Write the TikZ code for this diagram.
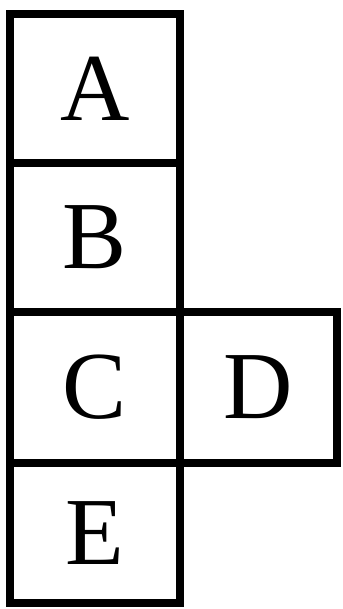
\documentclass[tikz,border=0pt]{standalone}
\usepackage{fontspec}
\setmainfont{Liberation Serif}
\usetikzlibrary{positioning}
\tikzset{
  sq/.style={draw=black, line width=6.5pt, fill=white, inner sep=0pt,
             minimum width=5.1cm, minimum height=4.5cm,
             font=\fontsize{82}{86}\selectfont},
}

\begin{document}
\begin{tikzpicture}[x=0.03cm,y=-0.03cm]
        \useasboundingbox (0,0) rectangle (343,609);
        % column of squares
        \foreach \t/\y/\h in {A/88.5/149,B/237.5/149,C/387.5/151,E/533/140}{
          \node[sq,minimum height=\h*0.03cm] (\t) at (95,\y){\t};
        }
        % square to the side
        \node[sq,minimum width=4.71cm,minimum height=4.53cm] (D) at (258.5,387.5){D};
\end{tikzpicture}
\end{document}
